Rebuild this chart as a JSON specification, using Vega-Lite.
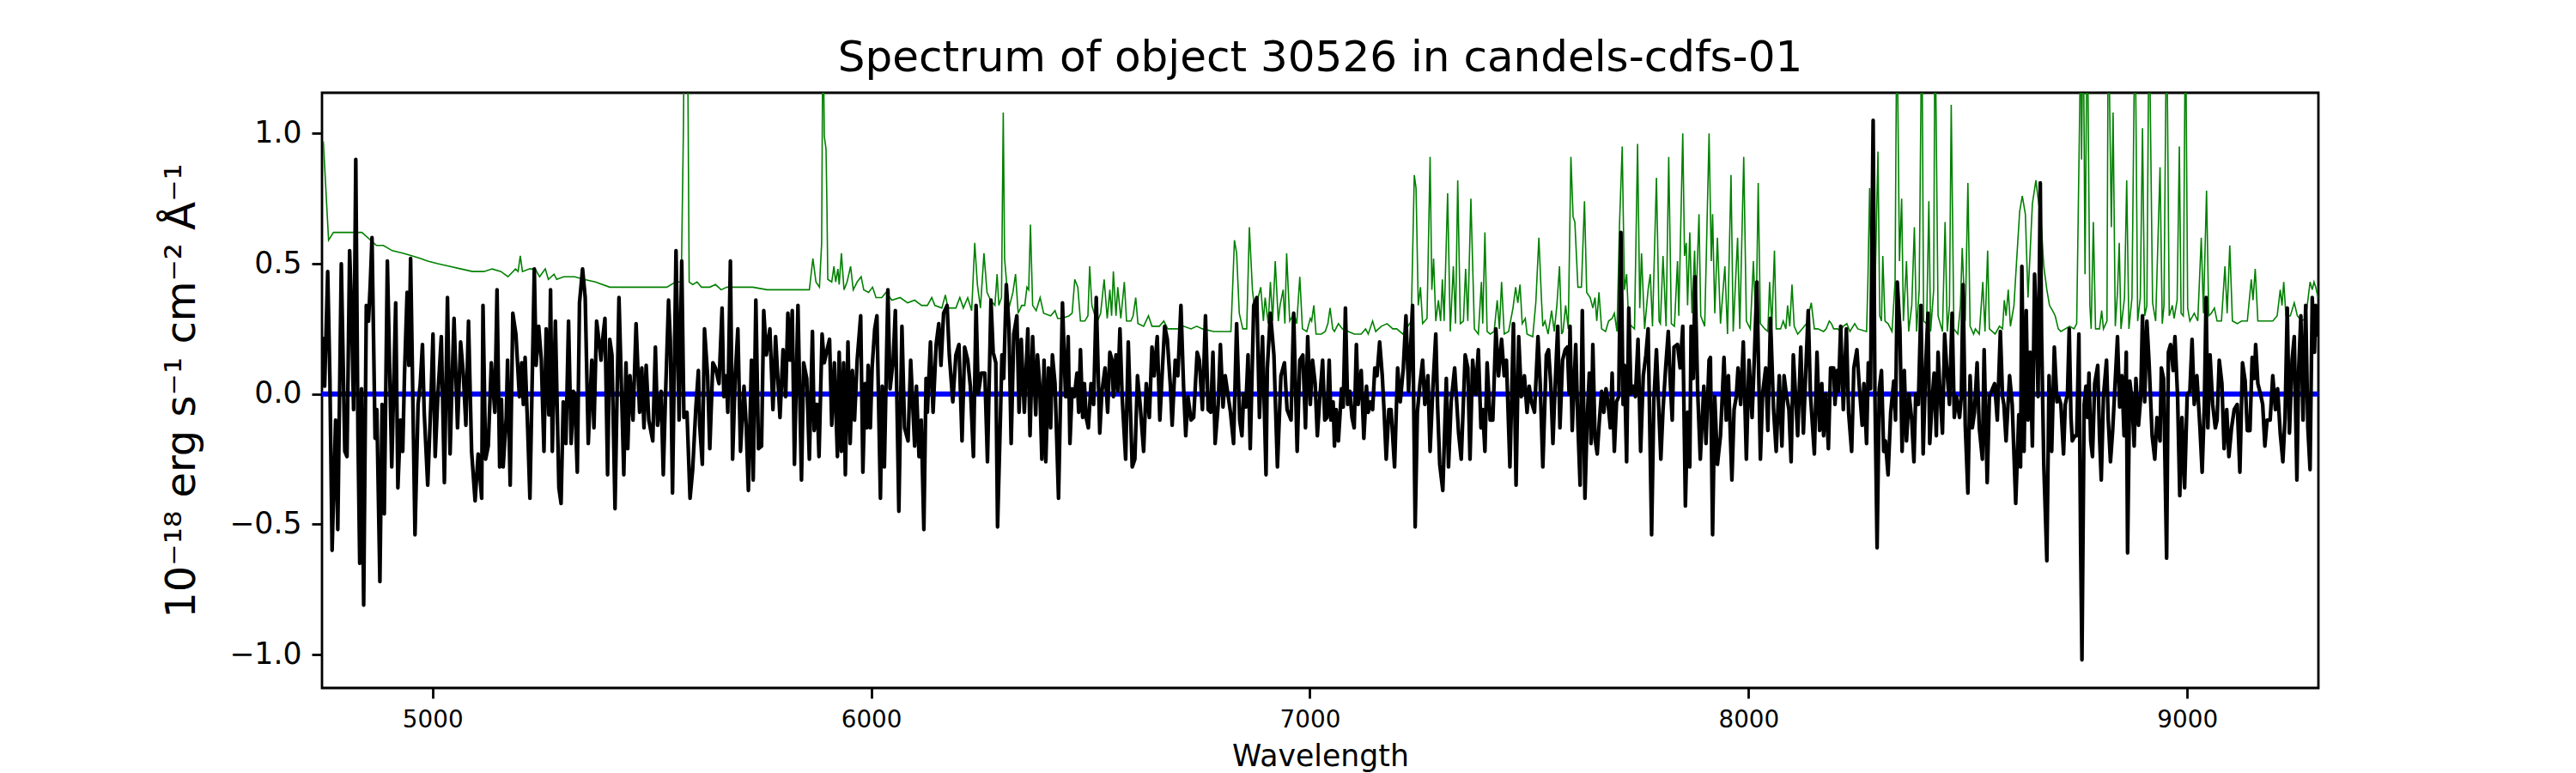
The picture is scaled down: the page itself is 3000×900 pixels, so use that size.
{
"$schema": "https://vega.github.io/schema/vega-lite/v6.json",
"width": 2325, "height": 693,
"autosize": {"type": "none"},
"padding": {"left": 375, "top": 108, "right": 300, "bottom": 99},
"background": "white",
"title": {"text": "Spectrum of object 30526 in candels-cdfs-01", "font": "DejaVu Sans", "fontSize": 50, "fontWeight": "normal", "color": "black", "anchor": "middle", "frame": "group", "offset": 15},
"config": {"view": {"stroke": "black", "strokeWidth": 2.8}},
"datasets": {
"noise": [
{"wl":4751,"noise":0.97},{"wl":4763,"noise":0.59},{"wl":4774,"noise":0.62},{"wl":4804,"noise":0.62},{"wl":4820,"noise":0.62},{"wl":4839,"noise":0.62},{"wl":4859,"noise":0.59},{"wl":4872,"noise":0.57},{"wl":4888,"noise":0.57},{"wl":4908,"noise":0.55},{"wl":4934,"noise":0.54},{"wl":4954,"noise":0.53},{"wl":4973,"noise":0.52},{"wl":4989,"noise":0.51},{"wl":5012,"noise":0.50},{"wl":5038,"noise":0.49},{"wl":5065,"noise":0.48},{"wl":5091,"noise":0.47},{"wl":5117,"noise":0.47},{"wl":5136,"noise":0.48},{"wl":5156,"noise":0.47},{"wl":5172,"noise":0.45},{"wl":5189,"noise":0.48},{"wl":5195,"noise":0.47},{"wl":5200,"noise":0.53},{"wl":5205,"noise":0.47},{"wl":5221,"noise":0.48},{"wl":5234,"noise":0.48},{"wl":5244,"noise":0.45},{"wl":5257,"noise":0.48},{"wl":5264,"noise":0.44},{"wl":5277,"noise":0.46},{"wl":5283,"noise":0.44},{"wl":5299,"noise":0.45},
{"wl":5324,"noise":0.45},{"wl":5345,"noise":0.44},{"wl":5371,"noise":0.43},{"wl":5404,"noise":0.41},{"wl":5436,"noise":0.41},{"wl":5469,"noise":0.41},{"wl":5502,"noise":0.41},{"wl":5534,"noise":0.41},{"wl":5554,"noise":0.43},{"wl":5567,"noise":0.43},{"wl":5572,"noise":1.03},{"wl":5574,"noise":1.5},{"wl":5581,"noise":1.5},{"wl":5585,"noise":0.43},{"wl":5593,"noise":0.42},{"wl":5603,"noise":0.43},{"wl":5613,"noise":0.41},{"wl":5632,"noise":0.41},{"wl":5645,"noise":0.42},{"wl":5658,"noise":0.40},{"wl":5671,"noise":0.41},{"wl":5697,"noise":0.41},{"wl":5730,"noise":0.41},{"wl":5763,"noise":0.40},{"wl":5795,"noise":0.40},{"wl":5828,"noise":0.40},{"wl":5859,"noise":0.40},{"wl":5867,"noise":0.52},{"wl":5874,"noise":0.43},
{"wl":5882,"noise":0.41},{"wl":5887,"noise":0.58},{"wl":5890,"noise":1.5},{"wl":5893,"noise":0.99},{"wl":5897,"noise":0.94},{"wl":5899,"noise":0.73},{"wl":5901,"noise":0.44},{"wl":5910,"noise":0.43},{"wl":5915,"noise":0.49},{"wl":5919,"noise":0.43},{"wl":5924,"noise":0.48},{"wl":5927,"noise":0.42},{"wl":5932,"noise":0.54},{"wl":5938,"noise":0.40},{"wl":5945,"noise":0.43},{"wl":5953,"noise":0.49},{"wl":5959,"noise":0.40},{"wl":5968,"noise":0.43},{"wl":5977,"noise":0.45},{"wl":5983,"noise":0.40},{"wl":5994,"noise":0.39},{"wl":6003,"noise":0.41},{"wl":6011,"noise":0.37},{"wl":6024,"noise":0.37},{"wl":6034,"noise":0.39},{"wl":6047,"noise":0.36},{"wl":6066,"noise":0.37},{"wl":6083,"noise":0.35},{"wl":6099,"noise":0.36},{"wl":6115,"noise":0.34},{"wl":6128,"noise":0.34},{"wl":6138,"noise":0.37},{"wl":6145,"noise":0.34},{"wl":6161,"noise":0.33},{"wl":6169,"noise":0.38},{"wl":6175,"noise":0.33},{"wl":6193,"noise":0.33},{"wl":6202,"noise":0.37},{"wl":6210,"noise":0.33},{"wl":6220,"noise":0.37},{"wl":6229,"noise":0.32},{"wl":6236,"noise":0.58},{"wl":6242,"noise":0.42},{"wl":6249,"noise":0.33},{"wl":6257,"noise":0.54},{"wl":6264,"noise":0.39},{"wl":6272,"noise":0.36},{"wl":6282,"noise":0.34},{"wl":6287,"noise":0.46},{"wl":6291,"noise":0.34},{"wl":6297,"noise":0.37},{"wl":6301,"noise":1.08},{"wl":6304,"noise":0.52},{"wl":6310,"noise":0.40},{"wl":6314,"noise":0.33},{"wl":6323,"noise":0.39},{"wl":6329,"noise":0.46},{"wl":6335,"noise":0.31},{"wl":6343,"noise":0.34},{"wl":6350,"noise":0.34},{"wl":6355,"noise":0.41},{"wl":6359,"noise":0.40},{"wl":6363,"noise":0.65},{"wl":6368,"noise":0.34},{"wl":6376,"noise":0.32},{"wl":6385,"noise":0.37},{"wl":6393,"noise":0.31},{"wl":6409,"noise":0.30},{"wl":6419,"noise":0.32},{"wl":6425,"noise":0.29},{"wl":6435,"noise":0.29},
{"wl":6451,"noise":0.30},{"wl":6458,"noise":0.31},{"wl":6464,"noise":0.44},{"wl":6471,"noise":0.41},{"wl":6477,"noise":0.28},{"wl":6487,"noise":0.28},{"wl":6494,"noise":0.30},{"wl":6498,"noise":0.49},{"wl":6503,"noise":0.34},{"wl":6510,"noise":0.30},{"wl":6516,"noise":0.28},{"wl":6523,"noise":0.31},{"wl":6531,"noise":0.44},{"wl":6538,"noise":0.29},{"wl":6544,"noise":0.40},{"wl":6548,"noise":0.30},{"wl":6552,"noise":0.47},{"wl":6558,"noise":0.30},{"wl":6562,"noise":0.41},{"wl":6569,"noise":0.29},{"wl":6577,"noise":0.43},{"wl":6582,"noise":0.28},{"wl":6592,"noise":0.28},{"wl":6597,"noise":0.30},{"wl":6603,"noise":0.37},{"wl":6608,"noise":0.27},{"wl":6621,"noise":0.26},{"wl":6632,"noise":0.30},{"wl":6640,"noise":0.26},{"wl":6657,"noise":0.26},{"wl":6667,"noise":0.28},{"wl":6676,"noise":0.25},{"wl":6699,"noise":0.25},{"wl":6712,"noise":0.26},{"wl":6729,"noise":0.25},{"wl":6742,"noise":0.26},{"wl":6755,"noise":0.25},{"wl":6781,"noise":0.24},{"wl":6820,"noise":0.24},{"wl":6828,"noise":0.59},{"wl":6833,"noise":0.54},{"wl":6839,"noise":0.31},{"wl":6847,"noise":0.25},{"wl":6856,"noise":0.25},{"wl":6862,"noise":0.64},{"wl":6869,"noise":0.40},{"wl":6875,"noise":0.31},{"wl":6882,"noise":0.37},{"wl":6888,"noise":0.41},{"wl":6894,"noise":0.28},{"wl":6898,"noise":0.37},{"wl":6905,"noise":0.27},{"wl":6910,"noise":0.43},{"wl":6915,"noise":0.28},{"wl":6921,"noise":0.51},{"wl":6928,"noise":0.28},{"wl":6932,"noise":0.34},{"wl":6939,"noise":0.40},{"wl":6943,"noise":0.27},{"wl":6947,"noise":0.54},{"wl":6954,"noise":0.28},{"wl":6964,"noise":0.31},{"wl":6970,"noise":0.27},{"wl":6977,"noise":0.45},{"wl":6983,"noise":0.25},{"wl":6993,"noise":0.24},{"wl":7001,"noise":0.29},{"wl":7004,"noise":0.28},
{"wl":7009,"noise":0.34},{"wl":7014,"noise":0.23},{"wl":7026,"noise":0.23},{"wl":7035,"noise":0.24},{"wl":7041,"noise":0.27},{"wl":7046,"noise":0.33},{"wl":7052,"noise":0.25},{"wl":7056,"noise":0.24},{"wl":7065,"noise":0.27},{"wl":7074,"noise":0.25},{"wl":7088,"noise":0.24},{"wl":7101,"noise":0.23},{"wl":7117,"noise":0.23},{"wl":7127,"noise":0.25},{"wl":7133,"noise":0.23},{"wl":7143,"noise":0.28},{"wl":7150,"noise":0.24},{"wl":7163,"noise":0.26},{"wl":7176,"noise":0.27},{"wl":7189,"noise":0.25},{"wl":7198,"noise":0.25},{"wl":7212,"noise":0.23},{"wl":7231,"noise":0.28},{"wl":7238,"noise":0.84},{"wl":7242,"noise":0.79},{"wl":7247,"noise":0.34},{"wl":7252,"noise":0.41},{"wl":7257,"noise":0.27},{"wl":7267,"noise":0.29},{"wl":7274,"noise":0.91},{"wl":7278,"noise":0.40},{"wl":7282,"noise":0.52},{"wl":7287,"noise":0.28},{"wl":7293,"noise":0.36},{"wl":7298,"noise":0.28},{"wl":7302,"noise":0.44},{"wl":7306,"noise":0.28},{"wl":7314,"noise":0.77},{"wl":7320,"noise":0.24},{"wl":7327,"noise":0.49},{"wl":7332,"noise":0.27},{"wl":7337,"noise":0.82},{"wl":7343,"noise":0.27},{"wl":7350,"noise":0.28},{"wl":7355,"noise":0.48},{"wl":7360,"noise":0.28},{"wl":7367,"noise":0.75},{"wl":7375,"noise":0.25},{"wl":7384,"noise":0.23},{"wl":7391,"noise":0.43},{"wl":7394,"noise":0.27},{"wl":7399,"noise":0.62},{"wl":7404,"noise":0.24},{"wl":7411,"noise":0.23},{"wl":7420,"noise":0.24},{"wl":7427,"noise":0.36},{"wl":7432,"noise":0.25},{"wl":7437,"noise":0.43},{"wl":7443,"noise":0.23},{"wl":7453,"noise":0.24},{"wl":7463,"noise":0.33},{"wl":7469,"noise":0.41},{"wl":7474,"noise":0.35},{"wl":7479,"noise":0.42},{"wl":7484,"noise":0.27},{"wl":7491,"noise":0.29},{"wl":7495,"noise":0.23},{"wl":7508,"noise":0.22},{"wl":7515,"noise":0.35},{"wl":7522,"noise":0.60},{"wl":7528,"noise":0.36},{"wl":7531,"noise":0.26},{"wl":7536,"noise":0.28},{"wl":7543,"noise":0.23},{"wl":7551,"noise":0.32},{"wl":7557,"noise":0.24},{"wl":7563,"noise":0.34},{"wl":7569,"noise":0.49},{"wl":7574,"noise":0.23},
{"wl":7577,"noise":0.24},{"wl":7583,"noise":0.34},{"wl":7589,"noise":0.25},{"wl":7595,"noise":0.91},{"wl":7600,"noise":0.68},{"wl":7604,"noise":0.66},{"wl":7611,"noise":0.41},{"wl":7619,"noise":0.41},{"wl":7626,"noise":0.74},{"wl":7631,"noise":0.39},{"wl":7639,"noise":0.37},{"wl":7645,"noise":0.33},{"wl":7650,"noise":0.37},{"wl":7654,"noise":0.28},{"wl":7659,"noise":0.39},{"wl":7665,"noise":0.25},{"wl":7674,"noise":0.24},{"wl":7681,"noise":0.28},{"wl":7689,"noise":0.29},{"wl":7694,"noise":0.31},{"wl":7700,"noise":0.24},{"wl":7706,"noise":0.66},{"wl":7712,"noise":0.95},{"wl":7717,"noise":0.40},{"wl":7722,"noise":0.46},{"wl":7727,"noise":0.27},{"wl":7740,"noise":0.25},{"wl":7747,"noise":0.96},{"wl":7752,"noise":0.33},{"wl":7756,"noise":0.54},{"wl":7763,"noise":0.25},{"wl":7771,"noise":0.40},{"wl":7776,"noise":0.46},{"wl":7781,"noise":0.26},{"wl":7790,"noise":0.83},{"wl":7796,"noise":0.28},{"wl":7799,"noise":0.27},{"wl":7805,"noise":0.53},{"wl":7812,"noise":0.26},{"wl":7818,"noise":0.91},{"wl":7824,"noise":0.27},{"wl":7831,"noise":0.26},{"wl":7838,"noise":0.51},{"wl":7841,"noise":0.30},{"wl":7850,"noise":1.00},{"wl":7854,"noise":0.53},{"wl":7858,"noise":0.58},{"wl":7861,"noise":0.34},{"wl":7866,"noise":0.62},{"wl":7871,"noise":0.31},{"wl":7877,"noise":0.55},{"wl":7880,"noise":0.34},{"wl":7887,"noise":0.69},{"wl":7891,"noise":0.30},{"wl":7900,"noise":0.26},{"wl":7910,"noise":1.00},{"wl":7915,"noise":0.51},{"wl":7918,"noise":0.69},{"wl":7923,"noise":0.31},{"wl":7929,"noise":0.60},{"wl":7936,"noise":0.27},{"wl":7946,"noise":0.49},{"wl":7952,"noise":0.23},{"wl":7960,"noise":0.84},{"wl":7965,"noise":0.24},{"wl":7975,"noise":0.60},{"wl":7980,"noise":0.25},{"wl":7989,"noise":0.91},{"wl":7995,"noise":0.28},{"wl":8004,"noise":0.25},{"wl":8011,"noise":0.51},{"wl":8017,"noise":0.25},{"wl":8022,"noise":0.81},{"wl":8027,"noise":0.27},{"wl":8037,"noise":0.25},{"wl":8044,"noise":0.24},{"wl":8048,"noise":0.43},{"wl":8053,"noise":0.26},{"wl":8059,"noise":0.55},{"wl":8063,"noise":0.25},{"wl":8073,"noise":0.25},{"wl":8079,"noise":0.28},{"wl":8085,"noise":0.25},{"wl":8089,"noise":0.34},{"wl":8094,"noise":0.26},{"wl":8099,"noise":0.42},{"wl":8104,"noise":0.26},{"wl":8112,"noise":0.23},{"wl":8122,"noise":0.25},{"wl":8132,"noise":0.27},{"wl":8143,"noise":0.35},
{"wl":8150,"noise":0.25},{"wl":8158,"noise":0.25},{"wl":8171,"noise":0.24},{"wl":8177,"noise":0.25},{"wl":8184,"noise":0.28},{"wl":8189,"noise":0.27},{"wl":8194,"noise":0.25},{"wl":8203,"noise":0.25},{"wl":8210,"noise":0.24},{"wl":8216,"noise":0.26},{"wl":8224,"noise":0.27},{"wl":8231,"noise":0.24},{"wl":8242,"noise":0.27},{"wl":8249,"noise":0.25},{"wl":8269,"noise":0.24},{"wl":8272,"noise":0.43},{"wl":8276,"noise":0.79},{"wl":8280,"noise":0.39},{"wl":8285,"noise":0.25},{"wl":8289,"noise":0.46},{"wl":8295,"noise":0.93},{"wl":8299,"noise":0.30},{"wl":8303,"noise":0.28},{"wl":8306,"noise":0.53},{"wl":8311,"noise":0.28},{"wl":8318,"noise":0.27},{"wl":8327,"noise":0.24},{"wl":8334,"noise":0.43},{"wl":8338,"noise":1.5},{"wl":8344,"noise":0.51},{"wl":8349,"noise":0.75},{"wl":8353,"noise":0.28},{"wl":8360,"noise":0.51},{"wl":8365,"noise":0.24},{"wl":8372,"noise":0.34},{"wl":8378,"noise":0.64},{"wl":8383,"noise":0.24},{"wl":8389,"noise":0.40},{"wl":8395,"noise":1.5},{"wl":8399,"noise":0.28},{"wl":8406,"noise":0.27},{"wl":8411,"noise":0.74},{"wl":8415,"noise":0.24},{"wl":8422,"noise":0.40},{"wl":8425,"noise":1.5},{"wl":8432,"noise":0.30},{"wl":8442,"noise":0.24},{"wl":8448,"noise":0.66},{"wl":8453,"noise":0.24},{"wl":8458,"noise":0.34},{"wl":8462,"noise":1.11},{"wl":8468,"noise":0.25},{"wl":8477,"noise":0.23},{"wl":8483,"noise":0.34},{"wl":8487,"noise":0.56},{"wl":8494,"noise":0.28},{"wl":8500,"noise":0.81},{"wl":8505,"noise":0.26},{"wl":8513,"noise":0.23},{"wl":8517,"noise":0.25},{"wl":8526,"noise":0.23},{"wl":8534,"noise":0.43},{"wl":8539,"noise":0.24},{"wl":8545,"noise":0.55},{"wl":8549,"noise":0.25},{"wl":8562,"noise":0.23},{"wl":8572,"noise":0.26},{"wl":8579,"noise":0.25},{"wl":8583,"noise":0.36},{"wl":8587,"noise":0.30},{"wl":8592,"noise":0.40},{"wl":8597,"noise":0.26},{"wl":8605,"noise":0.34},{"wl":8611,"noise":0.51},{"wl":8618,"noise":0.70},{"wl":8624,"noise":0.76},{"wl":8631,"noise":0.69},{"wl":8637,"noise":0.37},{"wl":8642,"noise":0.55},{"wl":8647,"noise":0.73},{"wl":8655,"noise":0.82},{"wl":8660,"noise":0.75},{"wl":8667,"noise":0.66},{"wl":8673,"noise":0.49},{"wl":8680,"noise":0.40},{"wl":8686,"noise":0.34},{"wl":8693,"noise":0.32},{"wl":8699,"noise":0.30},{"wl":8706,"noise":0.25},
{"wl":8712,"noise":0.24},{"wl":8722,"noise":0.25},{"wl":8732,"noise":0.26},{"wl":8742,"noise":0.25},{"wl":8748,"noise":0.27},{"wl":8755,"noise":1.11},{"wl":8758,"noise":1.5},{"wl":8759,"noise":0.90},{"wl":8763,"noise":1.5},{"wl":8767,"noise":0.46},{"wl":8772,"noise":1.5},{"wl":8778,"noise":0.34},{"wl":8781,"noise":0.25},{"wl":8786,"noise":0.66},{"wl":8791,"noise":0.25},{"wl":8800,"noise":0.25},{"wl":8805,"noise":0.32},{"wl":8809,"noise":0.25},{"wl":8817,"noise":0.28},{"wl":8820,"noise":1.5},{"wl":8827,"noise":0.64},{"wl":8831,"noise":1.08},{"wl":8836,"noise":0.26},{"wl":8841,"noise":0.39},{"wl":8845,"noise":0.58},{"wl":8849,"noise":0.25},{"wl":8857,"noise":0.37},{"wl":8862,"noise":0.82},{"wl":8867,"noise":0.25},{"wl":8874,"noise":0.37},{"wl":8881,"noise":1.5},{"wl":8887,"noise":0.28},{"wl":8893,"noise":0.37},{"wl":8898,"noise":1.02},{"wl":8903,"noise":0.30},{"wl":8908,"noise":0.34},{"wl":8913,"noise":1.5},{"wl":8921,"noise":0.35},{"wl":8928,"noise":0.28},{"wl":8938,"noise":0.87},{"wl":8943,"noise":0.27},{"wl":8947,"noise":0.34},{"wl":8953,"noise":1.5},{"wl":8959,"noise":0.30},{"wl":8966,"noise":0.34},{"wl":8970,"noise":0.29},{"wl":8977,"noise":0.36},{"wl":8982,"noise":0.95},{"wl":8986,"noise":0.31},{"wl":8991,"noise":0.30},{"wl":8996,"noise":1.5},{"wl":9001,"noise":0.33},{"wl":9006,"noise":0.28},{"wl":9016,"noise":0.31},{"wl":9024,"noise":0.28},{"wl":9032,"noise":0.60},{"wl":9037,"noise":0.31},{"wl":9044,"noise":0.78},{"wl":9049,"noise":0.30},{"wl":9055,"noise":0.31},{"wl":9062,"noise":0.33},{"wl":9068,"noise":0.28},{"wl":9078,"noise":0.28},{"wl":9086,"noise":0.49},{"wl":9091,"noise":0.31},{"wl":9097,"noise":0.57},{"wl":9103,"noise":0.28},{"wl":9114,"noise":0.27},{"wl":9124,"noise":0.28},{"wl":9137,"noise":0.28},{"wl":9146,"noise":0.44},{"wl":9150,"noise":0.36},{"wl":9155,"noise":0.48},{"wl":9161,"noise":0.28},{"wl":9169,"noise":0.28},{"wl":9182,"noise":0.28},{"wl":9195,"noise":0.28},{"wl":9205,"noise":0.30},{"wl":9212,"noise":0.40},{"wl":9216,"noise":0.34},{"wl":9220,"noise":0.43},{"wl":9225,"noise":0.30},{"wl":9235,"noise":0.30},{"wl":9244,"noise":0.35},{"wl":9251,"noise":0.30},{"wl":9261,"noise":0.28},{"wl":9270,"noise":0.29},{"wl":9280,"noise":0.43},{"wl":9285,"noise":0.40},{"wl":9289,"noise":0.43},{"wl":9293,"noise":0.41},{"wl":9298,"noise":0.37}
],
"flux": [
{"wl":4750,"flux":0.22},{"wl":4754,"flux":0.03},{"wl":4761,"flux":0.47},{"wl":4766,"flux":0.06},{"wl":4771,"flux":-0.60},{"wl":4779,"flux":-0.10},{"wl":4784,"flux":-0.52},{"wl":4792,"flux":0.50},{"wl":4800,"flux":-0.22},{"wl":4805,"flux":-0.24},{"wl":4811,"flux":0.55},{"wl":4815,"flux":0.34},{"wl":4820,"flux":-0.06},{"wl":4825,"flux":0.90},{"wl":4830,"flux":-0.16},{"wl":4834,"flux":-0.65},{"wl":4838,"flux":0.02},{"wl":4843,"flux":-0.81},{"wl":4849,"flux":0.34},{"wl":4854,"flux":0.28},{"wl":4858,"flux":0.42},{"wl":4862,"flux":0.60},{"wl":4869,"flux":-0.17},{"wl":4873,"flux":-0.06},{"wl":4880,"flux":-0.72},{"wl":4885,"flux":-0.04},{"wl":4890,"flux":-0.46},{"wl":4897,"flux":0.51},{"wl":4907,"flux":-0.28},{"wl":4916,"flux":0.35},{"wl":4921,"flux":-0.36},{"wl":4927,"flux":-0.10},{"wl":4932,"flux":-0.22},{"wl":4936,"flux":0.07},{"wl":4942,"flux":0.39},{"wl":4946,"flux":0.11},{"wl":4950,"flux":0.52},{"wl":4960,"flux":-0.54},{"wl":4967,"flux":-0.04},{"wl":4972,"flux":0.04},{"wl":4977,"flux":0.19},{"wl":4981,"flux":-0.07},{"wl":4989,"flux":-0.35},{"wl":4996,"flux":-0.04},{"wl":5001,"flux":0.23},{"wl":5006,"flux":-0.24},{"wl":5012,"flux":-0.01},{"wl":5020,"flux":0.22},{"wl":5027,"flux":-0.34},{"wl":5034,"flux":0.37},{"wl":5040,"flux":-0.23},{"wl":5044,"flux":0.02},{"wl":5049,"flux":0.29},{"wl":5057,"flux":-0.13},{"wl":5064,"flux":0.20},{"wl":5070,"flux":0.08},{"wl":5076,"flux":-0.12},{"wl":5082,"flux":0.28},{"wl":5089,"flux":-0.22},{"wl":5097,"flux":-0.41},{"wl":5104,"flux":-0.23},{"wl":5112,"flux":-0.40},{"wl":5115,"flux":0.34},{"wl":5121,"flux":-0.25},{"wl":5127,"flux":-0.20},{"wl":5134,"flux":0.12},{"wl":5142,"flux":-0.07},{"wl":5147,"flux":0.40},{"wl":5153,"flux":-0.28},{"wl":5157,"flux":-0.02},{"wl":5161,"flux":-0.28},{"wl":5168,"flux":-0.09},{"wl":5171,"flux":0.13},{"wl":5177,"flux":-0.35},{"wl":5183,"flux":0.31},{"wl":5190,"flux":0.23},{"wl":5198,"flux":-0.01},{"wl":5203,"flux":0.12},{"wl":5207,"flux":-0.04},{"wl":5211,"flux":0.14},{"wl":5217,"flux":-0.14},{"wl":5222,"flux":-0.40},{"wl":5232,"flux":0.48},{"wl":5236,"flux":0.11},{"wl":5242,"flux":0.26},{"wl":5248,"flux":0.13},{"wl":5254,"flux":-0.22},{"wl":5259,"flux":0.25},{"wl":5265,"flux":-0.08},{"wl":5269,"flux":0.40},{"wl":5273,"flux":-0.22},{"wl":5280,"flux":0.28},{"wl":5288,"flux":-0.36},{"wl":5293,"flux":-0.42},{"wl":5298,"flux":-0.03},{"wl":5304,"flux":-0.19},{"wl":5310,"flux":0.28},{"wl":5316,"flux":-0.19},{"wl":5321,"flux":0.01},
{"wl":5324,"flux":0.00},{"wl":5330,"flux":-0.30},{"wl":5335,"flux":0.35},{"wl":5342,"flux":0.48},{"wl":5348,"flux":0.37},{"wl":5355,"flux":-0.19},{"wl":5363,"flux":0.13},{"wl":5368,"flux":-0.13},{"wl":5374,"flux":0.28},{"wl":5379,"flux":0.21},{"wl":5384,"flux":0.13},{"wl":5389,"flux":0.23},{"wl":5393,"flux":0.29},{"wl":5399,"flux":-0.31},{"wl":5404,"flux":0.21},{"wl":5409,"flux":0.15},{"wl":5416,"flux":-0.44},{"wl":5420,"flux":-0.06},{"wl":5425,"flux":0.37},{"wl":5431,"flux":0.00},{"wl":5436,"flux":-0.31},{"wl":5441,"flux":0.12},{"wl":5445,"flux":-0.21},{"wl":5450,"flux":0.07},{"wl":5457,"flux":-0.10},{"wl":5464,"flux":0.27},{"wl":5472,"flux":-0.07},{"wl":5477,"flux":0.10},{"wl":5482,"flux":-0.13},{"wl":5487,"flux":0.11},{"wl":5493,"flux":-0.10},{"wl":5502,"flux":-0.18},{"wl":5508,"flux":0.18},{"wl":5513,"flux":-0.12},{"wl":5521,"flux":0.01},{"wl":5526,"flux":-0.31},{"wl":5531,"flux":-0.01},{"wl":5538,"flux":0.36},{"wl":5542,"flux":0.21},{"wl":5547,"flux":-0.38},{"wl":5555,"flux":0.55},{"wl":5562,"flux":-0.10},{"wl":5568,"flux":0.51},{"wl":5573,"flux":-0.09},{"wl":5580,"flux":-0.07},{"wl":5587,"flux":-0.40},{"wl":5593,"flux":-0.29},{"wl":5600,"flux":-0.06},{"wl":5606,"flux":0.09},{"wl":5609,"flux":-0.12},{"wl":5615,"flux":-0.27},{"wl":5620,"flux":0.25},{"wl":5627,"flux":0.07},{"wl":5632,"flux":-0.21},{"wl":5639,"flux":0.12},{"wl":5645,"flux":0.10},{"wl":5653,"flux":0.04},{"wl":5660,"flux":0.33},{"wl":5664,"flux":-0.01},{"wl":5670,"flux":0.07},{"wl":5673,"flux":-0.07},{"wl":5679,"flux":0.51},{"wl":5684,"flux":-0.25},{"wl":5690,"flux":0.07},{"wl":5696,"flux":0.25},{"wl":5702,"flux":-0.22},{"wl":5710,"flux":0.03},{"wl":5715,"flux":-0.12},{"wl":5720,"flux":-0.37},{"wl":5727,"flux":0.13},{"wl":5731,"flux":-0.33},{"wl":5737,"flux":0.36},{"wl":5743,"flux":-0.21},{"wl":5750,"flux":-0.20},{"wl":5755,"flux":0.32},{"wl":5761,"flux":0.15},{"wl":5769,"flux":0.25},{"wl":5776,"flux":-0.06},{"wl":5782,"flux":0.22},{"wl":5792,"flux":-0.09},{"wl":5799,"flux":0.17},{"wl":5805,"flux":-0.01},{"wl":5810,"flux":0.31},{"wl":5815,"flux":0.13},{"wl":5820,"flux":0.32},{"wl":5825,"flux":-0.27},{"wl":5833,"flux":0.34},{"wl":5841,"flux":-0.33},{"wl":5846,"flux":0.12},{"wl":5853,"flux":0.06},{"wl":5859,"flux":-0.25},{"wl":5866,"flux":0.24},{"wl":5870,"flux":-0.14},{"wl":5874,"flux":-0.04},
{"wl":5877,"flux":-0.04},{"wl":5881,"flux":-0.24},{"wl":5888,"flux":0.23},{"wl":5893,"flux":0.12},{"wl":5898,"flux":0.16},{"wl":5905,"flux":0.21},{"wl":5910,"flux":-0.12},{"wl":5916,"flux":0.12},{"wl":5923,"flux":-0.24},{"wl":5927,"flux":0.16},{"wl":5932,"flux":-0.22},{"wl":5937,"flux":0.12},{"wl":5941,"flux":-0.31},{"wl":5947,"flux":0.20},{"wl":5952,"flux":-0.19},{"wl":5957,"flux":0.09},{"wl":5962,"flux":-0.10},{"wl":5968,"flux":0.13},{"wl":5976,"flux":0.30},{"wl":5981,"flux":-0.30},{"wl":5986,"flux":0.04},{"wl":5990,"flux":-0.13},{"wl":5993,"flux":0.11},{"wl":5998,"flux":-0.13},{"wl":6002,"flux":0.10},{"wl":6008,"flux":0.25},{"wl":6013,"flux":0.30},{"wl":6021,"flux":-0.40},{"wl":6025,"flux":0.03},{"wl":6030,"flux":-0.28},{"wl":6038,"flux":0.40},{"wl":6043,"flux":0.02},{"wl":6050,"flux":0.13},{"wl":6055,"flux":0.32},{"wl":6063,"flux":-0.45},{"wl":6070,"flux":0.26},{"wl":6076,"flux":-0.13},{"wl":6084,"flux":-0.18},{"wl":6090,"flux":0.13},{"wl":6099,"flux":-0.20},{"wl":6103,"flux":0.03},{"wl":6109,"flux":-0.24},{"wl":6114,"flux":-0.10},{"wl":6120,"flux":-0.52},{"wl":6125,"flux":0.06},{"wl":6128,"flux":-0.07},{"wl":6135,"flux":0.20},{"wl":6141,"flux":-0.07},{"wl":6148,"flux":0.19},{"wl":6154,"flux":0.27},{"wl":6159,"flux":0.11},{"wl":6165,"flux":0.31},{"wl":6173,"flux":0.34},{"wl":6178,"flux":0.15},{"wl":6186,"flux":-0.03},{"wl":6193,"flux":0.15},{"wl":6200,"flux":0.19},{"wl":6207,"flux":-0.18},{"wl":6213,"flux":0.18},{"wl":6220,"flux":0.13},{"wl":6226,"flux":0.03},{"wl":6233,"flux":-0.24},{"wl":6239,"flux":0.34},{"wl":6244,"flux":0.00},{"wl":6251,"flux":0.08},{"wl":6259,"flux":0.08},{"wl":6265,"flux":-0.26},{"wl":6273,"flux":0.36},{"wl":6278,"flux":0.16},{"wl":6284,"flux":0.12},{"wl":6288,"flux":-0.51},{"wl":6295,"flux":-0.06},{"wl":6298,"flux":0.15},{"wl":6302,"flux":0.06},{"wl":6308,"flux":0.42},{"wl":6314,"flux":0.26},{"wl":6319,"flux":-0.19},{"wl":6325,"flux":0.23},{"wl":6332,"flux":0.30},{"wl":6337,"flux":-0.07},{"wl":6342,"flux":0.21},{"wl":6349,"flux":-0.07},{"wl":6357,"flux":0.25},{"wl":6362,"flux":-0.16},{"wl":6368,"flux":0.22},{"wl":6375,"flux":-0.08},{"wl":6379,"flux":0.15},{"wl":6384,"flux":0.04},{"wl":6389,"flux":-0.25},{"wl":6394,"flux":0.13},{"wl":6398,"flux":-0.26},{"wl":6404,"flux":0.10},{"wl":6409,"flux":-0.13},{"wl":6413,"flux":0.15},{"wl":6419,"flux":0.04},{"wl":6427,"flux":-0.40},{"wl":6436,"flux":0.35},{"wl":6443,"flux":-0.01},
{"wl":6445,"flux":-0.01},{"wl":6449,"flux":0.22},{"wl":6453,"flux":-0.19},{"wl":6458,"flux":0.02},{"wl":6463,"flux":-0.01},{"wl":6469,"flux":0.08},{"wl":6473,"flux":-0.07},{"wl":6477,"flux":0.17},{"wl":6482,"flux":-0.09},{"wl":6486,"flux":0.04},{"wl":6490,"flux":-0.09},{"wl":6495,"flux":-0.13},{"wl":6501,"flux":0.04},{"wl":6507,"flux":-0.04},{"wl":6513,"flux":0.37},{"wl":6521,"flux":-0.15},{"wl":6526,"flux":0.01},{"wl":6533,"flux":0.10},{"wl":6539,"flux":-0.07},{"wl":6544,"flux":0.16},{"wl":6549,"flux":0.13},{"wl":6552,"flux":-0.01},{"wl":6558,"flux":0.15},{"wl":6562,"flux":0.01},{"wl":6567,"flux":0.25},{"wl":6572,"flux":-0.01},{"wl":6580,"flux":-0.25},{"wl":6586,"flux":0.20},{"wl":6595,"flux":-0.28},{"wl":6601,"flux":-0.25},{"wl":6607,"flux":0.07},{"wl":6613,"flux":-0.04},{"wl":6621,"flux":-0.22},{"wl":6627,"flux":0.04},{"wl":6634,"flux":-0.09},{"wl":6640,"flux":0.18},{"wl":6645,"flux":0.07},{"wl":6652,"flux":0.22},{"wl":6658,"flux":-0.10},{"wl":6663,"flux":0.07},{"wl":6669,"flux":0.26},{"wl":6675,"flux":0.21},{"wl":6682,"flux":0.03},{"wl":6686,"flux":-0.12},{"wl":6693,"flux":0.13},{"wl":6699,"flux":0.07},{"wl":6706,"flux":0.34},{"wl":6712,"flux":0.03},{"wl":6717,"flux":-0.16},{"wl":6722,"flux":-0.01},{"wl":6729,"flux":-0.10},{"wl":6735,"flux":-0.09},{"wl":6743,"flux":0.16},{"wl":6748,"flux":0.13},{"wl":6755,"flux":-0.06},{"wl":6762,"flux":0.30},{"wl":6768,"flux":-0.06},{"wl":6774,"flux":-0.07},{"wl":6779,"flux":0.16},{"wl":6784,"flux":-0.19},{"wl":6791,"flux":-0.04},{"wl":6796,"flux":0.19},{"wl":6802,"flux":-0.05},{"wl":6807,"flux":0.07},{"wl":6813,"flux":0.00},{"wl":6819,"flux":-0.07},{"wl":6826,"flux":-0.19},{"wl":6833,"flux":0.27},{"wl":6840,"flux":-0.10},{"wl":6845,"flux":-0.16},{"wl":6849,"flux":0.00},{"wl":6854,"flux":-0.05},{"wl":6859,"flux":0.15},{"wl":6864,"flux":-0.21},{"wl":6872,"flux":0.34},{"wl":6879,"flux":0.37},{"wl":6885,"flux":-0.09},{"wl":6892,"flux":0.22},{"wl":6900,"flux":-0.31},{"wl":6903,"flux":0.10},{"wl":6910,"flux":0.31},{"wl":6918,"flux":0.15},{"wl":6926,"flux":-0.28},{"wl":6934,"flux":0.07},{"wl":6942,"flux":0.12},{"wl":6948,"flux":-0.06},{"wl":6957,"flux":-0.10},{"wl":6963,"flux":0.31},{"wl":6971,"flux":-0.22},{"wl":6977,"flux":0.13},{"wl":6984,"flux":0.15},{"wl":6990,"flux":-0.13},{"wl":6995,"flux":0.22},{"wl":7001,"flux":-0.04},{"wl":7006,"flux":0.13},
{"wl":7012,"flux":0.04},{"wl":7017,"flux":-0.16},{"wl":7022,"flux":-0.03},{"wl":7029,"flux":0.13},{"wl":7034,"flux":-0.10},{"wl":7039,"flux":-0.09},{"wl":7044,"flux":0.13},{"wl":7048,"flux":-0.10},{"wl":7053,"flux":-0.03},{"wl":7056,"flux":-0.20},{"wl":7060,"flux":-0.06},{"wl":7065,"flux":-0.18},{"wl":7069,"flux":-0.07},{"wl":7072,"flux":0.02},{"wl":7076,"flux":-0.05},{"wl":7081,"flux":0.33},{"wl":7086,"flux":-0.04},{"wl":7091,"flux":0.01},{"wl":7096,"flux":-0.09},{"wl":7101,"flux":-0.13},{"wl":7106,"flux":0.19},{"wl":7110,"flux":-0.04},{"wl":7117,"flux":0.09},{"wl":7123,"flux":-0.17},{"wl":7129,"flux":0.03},{"wl":7133,"flux":-0.07},{"wl":7138,"flux":-0.03},{"wl":7143,"flux":-0.06},{"wl":7148,"flux":0.10},{"wl":7153,"flux":0.07},{"wl":7159,"flux":0.20},{"wl":7165,"flux":0.07},{"wl":7169,"flux":-0.06},{"wl":7174,"flux":-0.25},{"wl":7180,"flux":-0.06},{"wl":7185,"flux":-0.06},{"wl":7193,"flux":-0.28},{"wl":7200,"flux":0.10},{"wl":7206,"flux":-0.03},{"wl":7213,"flux":0.10},{"wl":7219,"flux":0.30},{"wl":7225,"flux":0.01},{"wl":7234,"flux":0.34},{"wl":7240,"flux":-0.51},{"wl":7245,"flux":-0.07},{"wl":7251,"flux":0.04},{"wl":7257,"flux":0.13},{"wl":7262,"flux":-0.04},{"wl":7269,"flux":0.07},{"wl":7274,"flux":-0.22},{"wl":7280,"flux":0.01},{"wl":7287,"flux":0.23},{"wl":7291,"flux":-0.04},{"wl":7296,"flux":-0.27},{"wl":7303,"flux":-0.37},{"wl":7311,"flux":0.06},{"wl":7316,"flux":-0.28},{"wl":7322,"flux":-0.03},{"wl":7330,"flux":0.10},{"wl":7339,"flux":-0.15},{"wl":7345,"flux":-0.25},{"wl":7354,"flux":0.15},{"wl":7360,"flux":0.10},{"wl":7365,"flux":-0.25},{"wl":7371,"flux":0.13},{"wl":7378,"flux":0.00},{"wl":7384,"flux":0.17},{"wl":7390,"flux":-0.13},{"wl":7394,"flux":-0.06},{"wl":7399,"flux":-0.22},{"wl":7404,"flux":0.12},{"wl":7411,"flux":-0.10},{"wl":7417,"flux":-0.10},{"wl":7424,"flux":0.25},{"wl":7430,"flux":0.07},{"wl":7437,"flux":0.21},{"wl":7443,"flux":0.07},{"wl":7448,"flux":0.13},{"wl":7456,"flux":-0.28},{"wl":7464,"flux":0.27},{"wl":7470,"flux":-0.35},{"wl":7476,"flux":0.22},{"wl":7482,"flux":-0.01},{"wl":7489,"flux":0.07},{"wl":7495,"flux":-0.07},{"wl":7500,"flux":0.03},{"wl":7505,"flux":-0.03},{"wl":7512,"flux":-0.07},{"wl":7520,"flux":0.22},{"wl":7525,"flux":0.04},{"wl":7531,"flux":-0.28},{"wl":7539,"flux":0.15},{"wl":7544,"flux":0.17},{"wl":7549,"flux":0.04},{"wl":7554,"flux":-0.19},{"wl":7559,"flux":0.03},{"wl":7565,"flux":0.26},{"wl":7570,"flux":-0.13},{"wl":7576,"flux":0.13},
{"wl":7582,"flux":0.17},{"wl":7587,"flux":0.18},{"wl":7591,"flux":0.00},{"wl":7593,"flux":0.26},{"wl":7598,"flux":-0.14},{"wl":7602,"flux":0.03},{"wl":7606,"flux":0.19},{"wl":7611,"flux":-0.12},{"wl":7616,"flux":-0.35},{"wl":7621,"flux":0.32},{"wl":7627,"flux":-0.40},{"wl":7632,"flux":-0.10},{"wl":7637,"flux":0.08},{"wl":7641,"flux":-0.19},{"wl":7645,"flux":0.19},{"wl":7650,"flux":-0.17},{"wl":7655,"flux":-0.23},{"wl":7660,"flux":-0.10},{"wl":7665,"flux":0.01},{"wl":7670,"flux":-0.07},{"wl":7675,"flux":0.02},{"wl":7680,"flux":-0.04},{"wl":7685,"flux":-0.13},{"wl":7689,"flux":0.08},{"wl":7694,"flux":-0.22},{"wl":7699,"flux":-0.03},{"wl":7704,"flux":-0.01},{"wl":7709,"flux":0.62},{"wl":7714,"flux":-0.04},{"wl":7717,"flux":0.11},{"wl":7722,"flux":-0.26},{"wl":7727,"flux":0.33},{"wl":7732,"flux":0.00},{"wl":7737,"flux":0.03},{"wl":7742,"flux":-0.01},{"wl":7748,"flux":0.21},{"wl":7754,"flux":-0.22},{"wl":7760,"flux":0.07},{"wl":7766,"flux":0.15},{"wl":7771,"flux":0.25},{"wl":7779,"flux":-0.54},{"wl":7784,"flux":-0.03},{"wl":7790,"flux":0.17},{"wl":7794,"flux":0.00},{"wl":7800,"flux":-0.25},{"wl":7805,"flux":-0.06},{"wl":7811,"flux":0.10},{"wl":7817,"flux":0.24},{"wl":7822,"flux":0.03},{"wl":7826,"flux":-0.10},{"wl":7830,"flux":0.18},{"wl":7838,"flux":0.19},{"wl":7844,"flux":0.10},{"wl":7850,"flux":0.26},{"wl":7856,"flux":-0.43},{"wl":7861,"flux":-0.07},{"wl":7866,"flux":-0.28},{"wl":7869,"flux":0.26},{"wl":7874,"flux":0.06},{"wl":7878,"flux":0.45},{"wl":7884,"flux":0.01},{"wl":7890,"flux":-0.25},{"wl":7898,"flux":0.03},{"wl":7903,"flux":-0.19},{"wl":7910,"flux":0.13},{"wl":7913,"flux":0.14},{"wl":7918,"flux":-0.54},{"wl":7923,"flux":-0.01},{"wl":7929,"flux":-0.27},{"wl":7936,"flux":-0.16},{"wl":7944,"flux":0.14},{"wl":7949,"flux":-0.10},{"wl":7954,"flux":0.07},{"wl":7962,"flux":-0.33},{"wl":7967,"flux":-0.06},{"wl":7972,"flux":-0.01},{"wl":7976,"flux":0.10},{"wl":7982,"flux":-0.04},{"wl":7988,"flux":0.20},{"wl":7995,"flux":-0.25},{"wl":8001,"flux":0.13},{"wl":8008,"flux":-0.09},{"wl":8013,"flux":0.13},{"wl":8019,"flux":0.43},{"wl":8027,"flux":-0.25},{"wl":8032,"flux":0.00},{"wl":8039,"flux":0.10},{"wl":8044,"flux":-0.14},{"wl":8050,"flux":0.29},{"wl":8057,"flux":-0.06},{"wl":8063,"flux":-0.22},{"wl":8070,"flux":0.07},{"wl":8076,"flux":-0.20},{"wl":8081,"flux":0.07},{"wl":8086,"flux":0.00},{"wl":8092,"flux":-0.06},{"wl":8097,"flux":-0.26},{"wl":8102,"flux":0.15},{"wl":8107,"flux":0.00},{"wl":8112,"flux":-0.16},{"wl":8119,"flux":0.18},{"wl":8125,"flux":-0.15},{"wl":8130,"flux":0.07},{"wl":8136,"flux":0.32},{"wl":8141,"flux":0.00},
{"wl":8150,"flux":-0.23},{"wl":8156,"flux":0.16},{"wl":8162,"flux":-0.14},{"wl":8167,"flux":0.04},{"wl":8171,"flux":-0.16},{"wl":8176,"flux":0.00},{"wl":8182,"flux":-0.21},{"wl":8187,"flux":0.10},{"wl":8194,"flux":0.10},{"wl":8197,"flux":-0.04},{"wl":8202,"flux":0.09},{"wl":8205,"flux":0.01},{"wl":8210,"flux":0.26},{"wl":8216,"flux":-0.06},{"wl":8223,"flux":0.25},{"wl":8228,"flux":-0.07},{"wl":8235,"flux":-0.22},{"wl":8240,"flux":0.10},{"wl":8247,"flux":0.17},{"wl":8252,"flux":0.04},{"wl":8259,"flux":-0.12},{"wl":8263,"flux":0.04},{"wl":8269,"flux":-0.19},{"wl":8273,"flux":0.12},{"wl":8278,"flux":0.02},{"wl":8284,"flux":1.05},{"wl":8288,"flux":0.01},{"wl":8293,"flux":-0.59},{"wl":8298,"flux":0.02},{"wl":8303,"flux":0.09},{"wl":8308,"flux":-0.22},{"wl":8312,"flux":-0.18},{"wl":8318,"flux":-0.31},{"wl":8324,"flux":-0.07},{"wl":8331,"flux":0.05},{"wl":8335,"flux":-0.10},{"wl":8339,"flux":0.43},{"wl":8345,"flux":0.25},{"wl":8350,"flux":-0.22},{"wl":8355,"flux":0.09},{"wl":8360,"flux":-0.18},{"wl":8366,"flux":0.00},{"wl":8372,"flux":-0.10},{"wl":8377,"flux":-0.26},{"wl":8381,"flux":0.00},{"wl":8387,"flux":-0.04},{"wl":8393,"flux":0.34},{"wl":8398,"flux":-0.23},{"wl":8404,"flux":0.12},{"wl":8409,"flux":0.31},{"wl":8413,"flux":-0.19},{"wl":8419,"flux":-0.01},{"wl":8423,"flux":0.08},{"wl":8428,"flux":-0.16},{"wl":8432,"flux":0.16},{"wl":8437,"flux":-0.01},{"wl":8442,"flux":-0.15},{"wl":8447,"flux":0.23},{"wl":8451,"flux":0.12},{"wl":8458,"flux":-0.04},{"wl":8464,"flux":0.31},{"wl":8469,"flux":-0.09},{"wl":8474,"flux":-0.01},{"wl":8481,"flux":-0.09},{"wl":8485,"flux":-0.01},{"wl":8489,"flux":0.42},{"wl":8494,"flux":-0.12},{"wl":8500,"flux":-0.38},{"wl":8505,"flux":0.07},{"wl":8510,"flux":-0.13},{"wl":8515,"flux":-0.07},{"wl":8521,"flux":0.12},{"wl":8526,"flux":-0.13},{"wl":8533,"flux":-0.25},{"wl":8537,"flux":0.17},{"wl":8544,"flux":-0.34},{"wl":8549,"flux":-0.01},{"wl":8556,"flux":0.02},{"wl":8561,"flux":0.04},{"wl":8567,"flux":-0.10},{"wl":8574,"flux":0.24},{"wl":8579,"flux":-0.01},{"wl":8582,"flux":-0.04},{"wl":8587,"flux":-0.18},{"wl":8595,"flux":0.07},{"wl":8601,"flux":-0.04},{"wl":8609,"flux":-0.42},{"wl":8616,"flux":-0.08},{"wl":8620,"flux":-0.28},{"wl":8623,"flux":0.49},{"wl":8628,"flux":-0.22},{"wl":8633,"flux":0.32},{"wl":8637,"flux":-0.10},{"wl":8642,"flux":0.16},{"wl":8647,"flux":-0.20},{"wl":8652,"flux":0.46},{"wl":8657,"flux":0.21},{"wl":8660,"flux":-0.01},{"wl":8665,"flux":0.81},{"wl":8668,"flux":0.22},{"wl":8673,"flux":-0.27},{"wl":8680,"flux":-0.64},{"wl":8685,"flux":0.07},{"wl":8691,"flux":-0.22},{"wl":8697,"flux":0.18},{"wl":8703,"flux":-0.03},{"wl":8707,"flux":-0.01},
{"wl":8712,"flux":-0.04},{"wl":8718,"flux":-0.23},{"wl":8722,"flux":-0.04},{"wl":8727,"flux":0.00},{"wl":8731,"flux":0.25},{"wl":8735,"flux":-0.09},{"wl":8738,"flux":-0.18},{"wl":8744,"flux":-0.16},{"wl":8748,"flux":-0.16},{"wl":8753,"flux":0.23},{"wl":8757,"flux":-0.58},{"wl":8760,"flux":-1.02},{"wl":8765,"flux":-0.04},{"wl":8769,"flux":0.03},{"wl":8773,"flux":-0.09},{"wl":8776,"flux":0.08},{"wl":8780,"flux":-0.18},{"wl":8784,"flux":-0.24},{"wl":8789,"flux":0.04},{"wl":8796,"flux":0.11},{"wl":8800,"flux":-0.16},{"wl":8804,"flux":-0.33},{"wl":8809,"flux":-0.01},{"wl":8816,"flux":0.13},{"wl":8820,"flux":-0.10},{"wl":8825,"flux":-0.26},{"wl":8830,"flux":-0.14},{"wl":8834,"flux":-0.01},{"wl":8841,"flux":0.22},{"wl":8846,"flux":-0.05},{"wl":8851,"flux":0.07},{"wl":8856,"flux":-0.16},{"wl":8861,"flux":0.16},{"wl":8864,"flux":-0.61},{"wl":8869,"flux":0.05},{"wl":8874,"flux":-0.02},{"wl":8879,"flux":-0.20},{"wl":8883,"flux":0.06},{"wl":8889,"flux":-0.12},{"wl":8894,"flux":-0.01},{"wl":8898,"flux":0.30},{"wl":8903,"flux":-0.03},{"wl":8908,"flux":0.28},{"wl":8913,"flux":0.12},{"wl":8920,"flux":-0.16},{"wl":8926,"flux":-0.25},{"wl":8931,"flux":-0.09},{"wl":8938,"flux":-0.18},{"wl":8941,"flux":0.10},{"wl":8946,"flux":0.06},{"wl":8953,"flux":-0.63},{"wl":8957,"flux":0.16},{"wl":8962,"flux":0.19},{"wl":8968,"flux":0.09},{"wl":8972,"flux":0.22},{"wl":8978,"flux":-0.01},{"wl":8983,"flux":-0.39},{"wl":8988,"flux":-0.09},{"wl":8994,"flux":-0.36},{"wl":9000,"flux":0.00},{"wl":9006,"flux":0.01},{"wl":9011,"flux":0.21},{"wl":9016,"flux":-0.04},{"wl":9022,"flux":0.07},{"wl":9029,"flux":-0.13},{"wl":9034,"flux":-0.30},{"wl":9039,"flux":-0.04},{"wl":9043,"flux":0.37},{"wl":9047,"flux":-0.13},{"wl":9052,"flux":0.15},{"wl":9058,"flux":-0.04},{"wl":9064,"flux":-0.13},{"wl":9068,"flux":-0.10},{"wl":9073,"flux":0.13},{"wl":9079,"flux":0.04},{"wl":9084,"flux":-0.21},{"wl":9090,"flux":-0.06},{"wl":9095,"flux":-0.24},{"wl":9101,"flux":-0.13},{"wl":9107,"flux":-0.06},{"wl":9114,"flux":-0.04},{"wl":9120,"flux":-0.30},{"wl":9126,"flux":0.12},{"wl":9132,"flux":0.05},{"wl":9137,"flux":-0.14},{"wl":9143,"flux":-0.14},{"wl":9148,"flux":0.14},{"wl":9153,"flux":0.06},{"wl":9156,"flux":0.19},{"wl":9161,"flux":0.04},{"wl":9167,"flux":0.00},{"wl":9172,"flux":-0.04},{"wl":9177,"flux":-0.20},{"wl":9182,"flux":-0.10},{"wl":9189,"flux":-0.10},{"wl":9195,"flux":0.07},{"wl":9201,"flux":-0.06},{"wl":9206,"flux":0.02},{"wl":9212,"flux":-0.15},{"wl":9218,"flux":-0.26},{"wl":9223,"flux":-0.09},{"wl":9228,"flux":0.33},{"wl":9233,"flux":-0.15},{"wl":9239,"flux":0.13},{"wl":9244,"flux":0.22},{"wl":9250,"flux":-0.33},{"wl":9254,"flux":0.09},{"wl":9259,"flux":0.30},{"wl":9264,"flux":-0.10},{"wl":9270,"flux":0.34},{"wl":9275,"flux":-0.13},{"wl":9280,"flux":-0.29},{"wl":9285,"flux":0.37},{"wl":9290,"flux":0.16},{"wl":9293,"flux":0.34},{"wl":9298,"flux":0.22}
],
"zero": [{}]
},
"layer": [
{"data": {"name": "noise"},
 "mark": {"type": "line", "color": "#008000", "strokeWidth": 1.6, "clip": true},
 "encoding": {
  "x": {"field": "wl", "type": "quantitative", "scale": {"domain": [4748, 9299], "nice": false, "zero": false},
        "axis": {"title": "Wavelength", "titleFont": "DejaVu Sans", "titleFontSize": 34.7, "titleFontWeight": "normal", "titleColor": "black", "titlePadding": 13,
                 "values": [5000, 6000, 7000, 8000, 9000], "format": "d", "labelFont": "DejaVu Sans", "labelFontSize": 27.8, "labelColor": "black",
                 "tickSize": 12, "tickWidth": 2.8, "tickColor": "black", "labelPadding": 11, "grid": false, "domain": false}},
  "y": {"field": "noise", "type": "quantitative", "scale": {"domain": [-1.128, 1.156], "nice": false, "zero": false},
        "axis": {"title": "10⁻¹⁸ erg s⁻¹ cm⁻² Å⁻¹", "titleFont": "DejaVu Sans", "titleFontSize": 48, "titleFontWeight": "normal", "titleColor": "black", "titlePadding": 30,
                 "values": [-1, -0.5, 0, 0.5, 1], "format": ".1f", "labelFont": "DejaVu Sans", "labelFontSize": 34.7, "labelColor": "black",
                 "tickSize": 12, "tickWidth": 2.8, "tickColor": "black", "labelPadding": 12, "grid": false, "domain": false}}
 }},
{"data": {"name": "zero"},
 "mark": {"type": "rule", "color": "#0000ff", "strokeWidth": 6},
 "encoding": {"y": {"datum": 0}}},
{"data": {"name": "flux"},
 "mark": {"type": "line", "color": "black", "strokeWidth": 4.3, "clip": true, "strokeJoin": "round"},
 "encoding": {
  "x": {"field": "wl", "type": "quantitative"},
  "y": {"field": "flux", "type": "quantitative"}
 }}
]
}
